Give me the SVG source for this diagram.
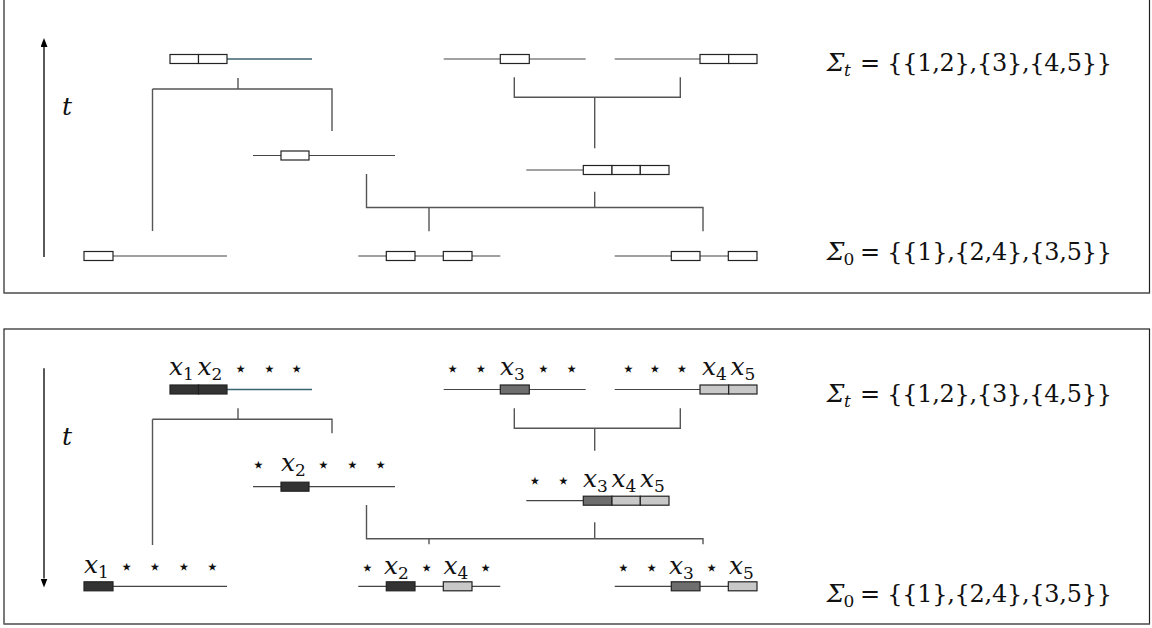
<svg xmlns="http://www.w3.org/2000/svg" width="1152" height="628" viewBox="0 0 1152 628">
<style>
.frame{fill:#fff;stroke:#222;stroke-width:1.2}
.fb{stroke:#777;stroke-width:1.6;fill:none}
.ln{stroke:#444;stroke-width:1.2;fill:none}
.lt{stroke:#3a6370;stroke-width:1.4;fill:none}
.br{stroke:#555;stroke-width:1.4;fill:none}
.bx{stroke:#222;stroke-width:1.2;fill:#fff}
.d{fill:#333}
.g{fill:#6e6e6e}
.l{fill:#c8c8c8}
.ax{stroke:#000;stroke-width:1.3}
.m{font-family:'DejaVu Serif','Liberation Serif',serif;font-style:italic;font-size:25px;fill:#111}
.r{font-family:'DejaVu Serif','Liberation Serif',serif;font-size:24px;fill:#111}
.s{font-size:17px;font-style:normal}
.si{font-size:17px}
.st{font-family:'DejaVu Sans',sans-serif;font-size:22px;text-anchor:middle;fill:#111}
</style>
<defs>
<marker id="ah" markerUnits="userSpaceOnUse" markerWidth="10" markerHeight="7" refX="0" refY="3.5" orient="auto">
<path d="M0,0 L9,3.5 L0,7 z" fill="#000"/>
</marker>
</defs>

<!-- frames -->
<rect class="frame" x="4" y="-4" width="1145.5" height="297"/>
<path class="fb" d="M4,293.3 H1149.5"/>
<rect class="frame" x="4" y="329" width="1145.5" height="295"/>
<path class="fb" d="M4,624 H1149.5"/>

<!-- ===== TOP PANEL ===== -->
<g id="axis-top">
<line class="ax" x1="44" y1="257" x2="44" y2="47" marker-end="url(#ah)"/>
<text class="m" x="62" y="115">t</text>
</g>

<g id="connectors-top">
<path class="br" d="M238,78 V89 M152.5,89 H332 V131 M152.5,89 V231"/>
<path class="br" d="M514.3,77.3 V97.3 H680.3 V77.3 M594.7,97.3 V148.3"/>
<path class="br" d="M366.5,174 V207.5 H703 V231.3 M594.7,191.7 V207.5 M429,207.5 V231.3"/>
</g>

<g id="t-n1">
<line class="lt" x1="227" y1="59" x2="312" y2="59"/>
<rect class="bx" x="170" y="54.5" width="28.5" height="9"/>
<rect class="bx" x="198.5" y="54.5" width="28.5" height="9"/>
</g>
<g id="t-n2">
<line class="ln" x1="443.7" y1="59" x2="585.7" y2="59"/>
<rect class="bx" x="500.3" y="54.5" width="29" height="9"/>
</g>
<g id="t-n3">
<line class="ln" x1="614.7" y1="59" x2="700" y2="59"/>
<rect class="bx" x="700" y="54.5" width="28.7" height="9"/>
<rect class="bx" x="728.7" y="54.5" width="28.3" height="9"/>
</g>
<g id="t-n4">
<line class="ln" x1="253" y1="155.5" x2="395" y2="155.5"/>
<rect class="bx" x="281" y="151" width="28" height="9"/>
</g>
<g id="t-n5">
<line class="ln" x1="526.3" y1="170" x2="583.3" y2="170"/>
<rect class="bx" x="583.3" y="165.5" width="28.7" height="9"/>
<rect class="bx" x="612" y="165.5" width="28.3" height="9"/>
<rect class="bx" x="640.3" y="165.5" width="28.7" height="9"/>
</g>
<g id="t-n6">
<line class="ln" x1="113" y1="256" x2="227" y2="256"/>
<rect class="bx" x="84" y="251.5" width="29" height="9"/>
</g>
<g id="t-n7">
<line class="ln" x1="358.3" y1="256" x2="500.3" y2="256"/>
<rect class="bx" x="386.3" y="251.5" width="28.7" height="9"/>
<rect class="bx" x="443.3" y="251.5" width="28.7" height="9"/>
</g>
<g id="t-n8">
<line class="ln" x1="614.7" y1="256" x2="757" y2="256"/>
<rect class="bx" x="671.3" y="251.5" width="28.7" height="9"/>
<rect class="bx" x="728.3" y="251.5" width="28.7" height="9"/>
</g>

<g id="t-sigma">
<text class="m" x="826.7" y="71">Σ<tspan class="si" x="844" dy="5">t</tspan></text>
<text class="r" x="860" y="71" textLength="252" lengthAdjust="spacing">= {{1,2},{3},{4,5}}</text>
<text class="m" x="826.7" y="260">Σ<tspan class="s" x="843.5" dy="5">0</tspan></text>
<text class="r" x="860" y="260" textLength="252" lengthAdjust="spacing">= {{1},{2,4},{3,5}}</text>
</g>

<!-- ===== BOTTOM PANEL ===== -->
<g id="axis-bottom">
<line class="ax" x1="44" y1="368.3" x2="44" y2="578.5" marker-end="url(#ah)"/>
<text class="m" x="62" y="445">t</text>
</g>

<g id="connectors-bottom">
<path class="br" d="M238,408.3 V419.3 M152.5,419.3 H332 V433.3 M152.5,419.3 V545"/>
<path class="br" d="M514.3,408.3 V428.3 H680.3 V408.3 M594.7,428.3 V450.7"/>
<path class="br" d="M366.5,505 V538.7 H703 V544.3 M594.7,522.3 V538.7 M429,538.7 V544.3"/>
</g>

<g id="b-n1">
<line class="lt" x1="227" y1="389.5" x2="312" y2="389.5"/>
<rect class="bx d" x="170" y="385" width="28.5" height="9"/>
<rect class="bx d" x="198.5" y="385" width="28.5" height="9"/>
<text class="m" y="375"><tspan x="169">x</tspan><tspan class="s" dy="5">1</tspan><tspan x="197.5" y="375">x</tspan><tspan class="s" dy="5">2</tspan></text>
<text class="st" y="376"><tspan x="240.7">⋆</tspan><tspan x="269.3">⋆</tspan><tspan x="296.7">⋆</tspan></text>
</g>
<g id="b-n2">
<line class="ln" x1="443.7" y1="389.5" x2="585.7" y2="389.5"/>
<rect class="bx g" x="500.3" y="385" width="29" height="9"/>
<text class="m" y="375"><tspan x="500">x</tspan><tspan class="s" dy="5">3</tspan></text>
<text class="st" y="376"><tspan x="452.7">⋆</tspan><tspan x="481">⋆</tspan><tspan x="543.3">⋆</tspan><tspan x="571.7">⋆</tspan></text>
</g>
<g id="b-n3">
<line class="ln" x1="614.7" y1="389.5" x2="700" y2="389.5"/>
<rect class="bx l" x="700" y="385" width="28.7" height="9"/>
<rect class="bx l" x="728.7" y="385" width="28.3" height="9"/>
<text class="m" y="375"><tspan x="702">x</tspan><tspan class="s" dy="5">4</tspan><tspan x="730.5" y="375">x</tspan><tspan class="s" dy="5">5</tspan></text>
<text class="st" y="376"><tspan x="628.5">⋆</tspan><tspan x="655">⋆</tspan><tspan x="682">⋆</tspan></text>
</g>
<g id="b-n4">
<line class="ln" x1="253" y1="486.7" x2="395" y2="486.7"/>
<rect class="bx d" x="281" y="482.2" width="28" height="9"/>
<text class="m" y="471"><tspan x="281">x</tspan><tspan class="s" dy="5">2</tspan></text>
<text class="st" y="472"><tspan x="258.3">⋆</tspan><tspan x="323.3">⋆</tspan><tspan x="352.3">⋆</tspan><tspan x="380.7">⋆</tspan></text>
</g>
<g id="b-n5">
<line class="ln" x1="526.3" y1="500.7" x2="583.3" y2="500.7"/>
<rect class="bx g" x="583.3" y="496.2" width="28.7" height="9"/>
<rect class="bx l" x="612" y="496.2" width="28.3" height="9"/>
<rect class="bx l" x="640.3" y="496.2" width="28.7" height="9"/>
<text class="m" y="487"><tspan x="583">x</tspan><tspan class="s" dy="5">3</tspan><tspan x="611.5" y="487">x</tspan><tspan class="s" dy="5">4</tspan><tspan x="640" y="487">x</tspan><tspan class="s" dy="5">5</tspan></text>
<text class="st" y="488"><tspan x="535">⋆</tspan><tspan x="563.3">⋆</tspan></text>
</g>
<g id="b-n6">
<line class="ln" x1="113" y1="586.3" x2="227" y2="586.3"/>
<rect class="bx d" x="84" y="581.8" width="29" height="9"/>
<text class="m" y="573"><tspan x="84">x</tspan><tspan class="s" dy="5">1</tspan></text>
<text class="st" y="574"><tspan x="126.7">⋆</tspan><tspan x="155">⋆</tspan><tspan x="184">⋆</tspan><tspan x="212.3">⋆</tspan></text>
</g>
<g id="b-n7">
<line class="ln" x1="358.3" y1="586.3" x2="500.3" y2="586.3"/>
<rect class="bx d" x="386.3" y="581.8" width="28.7" height="9"/>
<rect class="bx l" x="443.3" y="581.8" width="28.7" height="9"/>
<text class="m" y="574"><tspan x="384">x</tspan><tspan class="s" dy="5">2</tspan><tspan x="443.5" y="574">x</tspan><tspan class="s" dy="5">4</tspan></text>
<text class="st" y="575"><tspan x="367.3">⋆</tspan><tspan x="426.7">⋆</tspan><tspan x="485.7">⋆</tspan></text>
</g>
<g id="b-n8">
<line class="ln" x1="614.7" y1="586.3" x2="757" y2="586.3"/>
<rect class="bx g" x="671.3" y="581.8" width="28.7" height="9"/>
<rect class="bx l" x="728.3" y="581.8" width="28.7" height="9"/>
<text class="m" y="574"><tspan x="669">x</tspan><tspan class="s" dy="5">3</tspan><tspan x="729" y="574">x</tspan><tspan class="s" dy="5">5</tspan></text>
<text class="st" y="575"><tspan x="623.3">⋆</tspan><tspan x="651.7">⋆</tspan><tspan x="711.7">⋆</tspan></text>
</g>

<g id="b-sigma">
<text class="m" x="826.7" y="402">Σ<tspan class="si" x="844" dy="5">t</tspan></text>
<text class="r" x="860" y="402" textLength="252" lengthAdjust="spacing">= {{1,2},{3},{4,5}}</text>
<text class="m" x="826.7" y="601.5">Σ<tspan class="s" x="843.5" dy="5">0</tspan></text>
<text class="r" x="860" y="601.5" textLength="252" lengthAdjust="spacing">= {{1},{2,4},{3,5}}</text>
</g>
</svg>
